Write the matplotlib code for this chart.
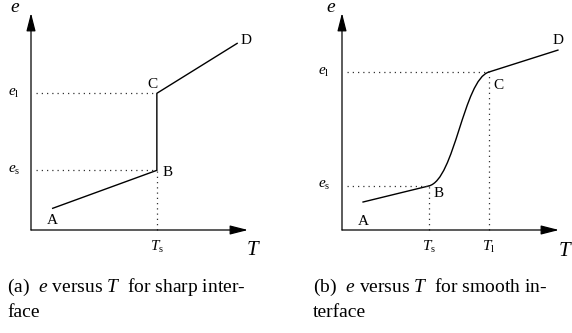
import matplotlib
matplotlib.use("Agg")
import matplotlib.pyplot as plt
from matplotlib.path import Path
from matplotlib.patches import PathPatch

plt.rcParams['font.family'] = ['Liberation Serif', 'DejaVu Serif']
plt.rcParams['mathtext.fontset'] = 'custom'
plt.rcParams['mathtext.rm'] = 'Liberation Serif'
plt.rcParams['mathtext.it'] = 'Liberation Serif:italic'

# panel (a): sharp interface, points A, B, C, D
sharp_T = [1.0, 5.8, 5.8, 9.5]
sharp_e = [1.0, 2.75, 6.3, 8.6]

# panel (b): smooth interface
smooth_A = (0.97, 1.29)
smooth_B = (4.0, 2.03)
smooth_ctrl1 = (5.2, 2.32)
smooth_ctrl2 = (5.6, 6.92)
smooth_C = (6.77, 7.28)
smooth_D = (9.95, 8.29)

point_names = ['A', 'B', 'C', 'D']

W, H = 572, 333
PX = 21.7  # pixels per data unit
fig = plt.figure(figsize=(W / 100, H / 100), dpi=100)


def make_axes(ox, oy):
    ax = fig.add_axes([ox / W, (H - oy) / H, 10 * PX / W, 10 * PX / H])
    ax.set_xlim(0, 10)
    ax.set_ylim(0, 10)
    ax.axis('off')
    arrow = dict(arrowstyle='-|>,head_length=1.1,head_width=0.28',
                 color='black', lw=0.9, shrinkA=0, shrinkB=0)
    ax.annotate('', xy=(10, 0), xytext=(0, 0), arrowprops=arrow,
                annotation_clip=False)
    ax.annotate('', xy=(0, 10), xytext=(0, 0), arrowprops=arrow,
                annotation_clip=False)
    return ax


dot = dict(color='#333333', lw=0.9, ls=(0, (1, 3.2)), clip_on=False)
line = dict(color='black', lw=1.0, clip_on=False)
lab = dict(fontsize=11, ha='center', va='center')
sub = dict(fontsize=11, ha='center', va='center')

# ---- (a)
ax1 = make_axes(31, 230)
ax1.plot(sharp_T, sharp_e, **line)
ax1.plot([0.25, sharp_T[1]], [sharp_e[2], sharp_e[2]], **dot)
ax1.plot([0.25, sharp_T[1]], [sharp_e[1], sharp_e[1]], **dot)
ax1.plot([sharp_T[1], sharp_T[1]], [0, sharp_e[1]], **dot)
offs_a = [(0.0, -0.55), (0.48, -0.1), (-0.2, 0.42), (0.4, 0.15)]
for name, x, y, (dx, dy) in zip(point_names, sharp_T, sharp_e, offs_a):
    ax1.text(x + dx, y + dy, name, **lab)
ax1.text(-0.72, 10.03, '$e$', fontsize=14, ha='center', va='baseline')
ax1.text(10.25, -0.95, '$T$', fontsize=15, ha='center', va='center')
ax1.text(-0.78, sharp_e[2], r'$e_{\rm l}$', **sub)
ax1.text(-0.78, sharp_e[1], r'$e_{\rm s}$', **sub)
ax1.text(sharp_T[1], -0.8, r'$T_{\rm s}$', **sub)

# ---- (b)
ax2 = make_axes(342, 230)
ax2.plot([smooth_A[0], smooth_B[0]], [smooth_A[1], smooth_B[1]], **line)
verts = [smooth_B, smooth_ctrl1, smooth_ctrl2, smooth_C]
curve = Path(verts, [Path.MOVETO, Path.CURVE4, Path.CURVE4, Path.CURVE4])
ax2.add_patch(PathPatch(curve, fill=False, color='black', lw=1.0))
ax2.plot([smooth_C[0], smooth_D[0]], [smooth_C[1], smooth_D[1]], **line)
ax2.plot([0.25, smooth_C[0]], [smooth_C[1], smooth_C[1]], **dot)
ax2.plot([0.25, smooth_B[0]], [smooth_B[1], smooth_B[1]], **dot)
ax2.plot([smooth_B[0], smooth_B[0]], [0, smooth_B[1]], **dot)
ax2.plot([smooth_C[0], smooth_C[0]], [0, smooth_C[1]], **dot)
pts_b = [smooth_A, smooth_B, smooth_C, smooth_D]
offs_b = [(0.0, -0.88), (0.45, -0.35), (0.45, -0.6), (0.0, 0.45)]
for name, (x, y), (dx, dy) in zip(point_names, pts_b, offs_b):
    ax2.text(x + dx, y + dy, name, **lab)
ax2.text(-0.5, 10.03, '$e$', fontsize=14, ha='center', va='baseline')
ax2.text(10.28, -1.0, '$T$', fontsize=15, ha='center', va='center')
ax2.text(-0.82, smooth_C[1], r'$e_{\rm l}$', **sub)
ax2.text(-0.82, smooth_B[1], r'$e_{\rm s}$', **sub)
ax2.text(smooth_B[0], -0.8, r'$T_{\rm s}$', **sub)
ax2.text(smooth_C[0], -0.8, r'$T_{\rm l}$', **sub)

# captions
cap = dict(fontsize=14, ha='left', va='baseline')
fig.text(7 / W, (H - 292) / H, '(a)  $e$ versus $T$  for sharp inter-', **cap)
fig.text(7 / W, (H - 317) / H, 'face', **cap)
fig.text(313 / W, (H - 292) / H, '(b)  $e$ versus $T$  for smooth in-', **cap)
fig.text(313 / W, (H - 317) / H, 'terface', **cap)

fig.savefig('out.png', dpi=100)
